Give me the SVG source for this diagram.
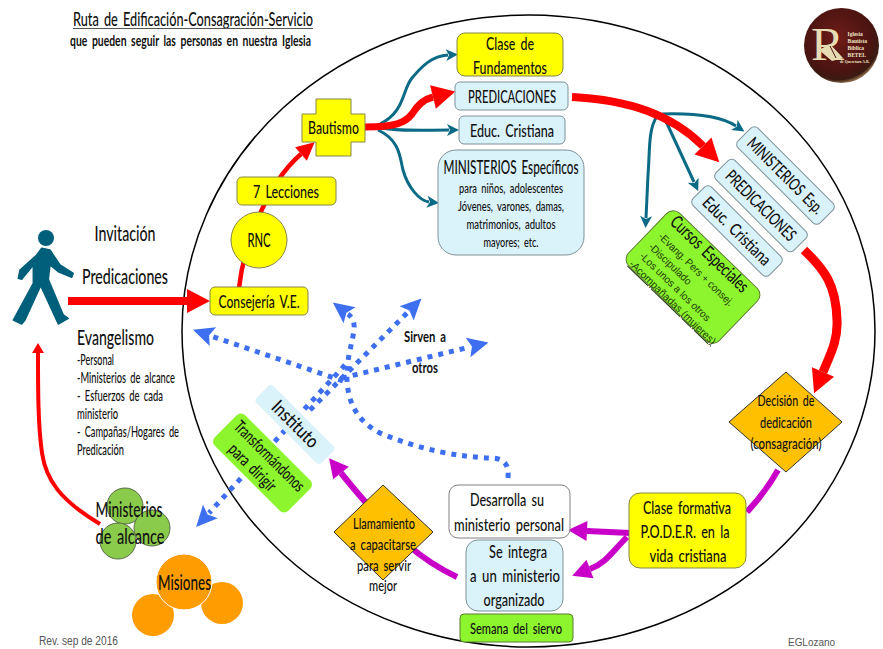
<svg xmlns="http://www.w3.org/2000/svg" width="883" height="649" viewBox="0 0 883 649">
<style>
text{font-family:"Lato","Open Sans","Liberation Sans",sans-serif;fill:#111;text-anchor:middle;word-spacing:3px;font-weight:500}
.l{text-anchor:start}
.b{font-weight:700}
.a{font-family:"Liberation Sans",Arial,sans-serif;fill:#555;word-spacing:0;font-weight:400}
.h{font-family:"Liberation Sans",Arial,sans-serif;word-spacing:0;font-weight:400;font-size:10.5px;fill:#1d3a08}
.t{font-family:"Liberation Serif",serif;fill:#efe6c8;font-weight:700;word-spacing:0;text-anchor:start}
.y{fill:#ffff00;stroke:#85854a;stroke-width:1}
.c{fill:#daf2f9;stroke:#7f9299;stroke-width:1}
.n{fill:#daf2f9}
.g{fill:#8cf52e;stroke:#5c7a2e;stroke-width:1}
.gn{fill:#8cf52e}
.w{fill:#fff;stroke:#808080;stroke-width:1}
.o{fill:#ffc000;stroke:#333;stroke-width:1}
.m{fill:#8acb4b;stroke:#5a6b4a;stroke-width:1}
.s{fill:#ff9c00}
.red{fill:none;stroke:#ff0000}
.teal{fill:none;stroke:#0b6a85;stroke-width:3}
.mag{fill:none;stroke:#c800c8;stroke-width:6}
.blue{fill:none;stroke:#3d6ff0;stroke-width:5;stroke-dasharray:5 6}
</style>
<defs>
<radialGradient id="lg" cx="45%" cy="40%" r="60%"><stop offset="0" stop-color="#6e1c18"/><stop offset=".75" stop-color="#4a1410"/><stop offset=".93" stop-color="#3a1a12"/><stop offset="1" stop-color="#8a6a48"/></radialGradient>
<marker id="rb" markerUnits="userSpaceOnUse" overflow="visible" orient="auto" refX="0" refY="0" markerWidth="26" markerHeight="26"><path d="M0,-12L23,0L0,12Z" fill="#ff0000"/></marker>
<marker id="rm" markerUnits="userSpaceOnUse" overflow="visible" orient="auto" refX="0" refY="0" markerWidth="26" markerHeight="26"><path d="M0,-9L18,0L0,9Z" fill="#ff0000"/></marker>
<marker id="rs" markerUnits="userSpaceOnUse" overflow="visible" orient="auto" refX="0" refY="0" markerWidth="14" markerHeight="14"><path d="M0,-6L10,0L0,6Z" fill="#ff0000"/></marker>
<marker id="t" markerUnits="userSpaceOnUse" overflow="visible" orient="auto" refX="0" refY="0" markerWidth="14" markerHeight="14"><path d="M-2,-6L10,0L-2,6L1,0Z" fill="#0b6a85"/></marker>
<marker id="p" markerUnits="userSpaceOnUse" overflow="visible" orient="auto" refX="0" refY="0" markerWidth="24" markerHeight="24"><path d="M0,-10L19,0L0,10Z" fill="#c800c8"/></marker>
<marker id="bl" markerUnits="userSpaceOnUse" overflow="visible" orient="auto" refX="0" refY="0" markerWidth="24" markerHeight="24"><path d="M-2,-10L19,0L-2,10L2,0Z" fill="#3d6ff0"/></marker>
</defs>
<rect width="883" height="649" fill="#fff"/>
<ellipse cx="528.5" cy="331" rx="346.5" ry="316" fill="none" stroke="#000" stroke-width="1.5"/>

<g id="titulo">
<text x="193" y="26" font-size="20" textLength="240" lengthAdjust="spacingAndGlyphs">Ruta de Edificación-Consagración-Servicio</text>
<line x1="73" y1="28.5" x2="313" y2="28.5" stroke="#555" stroke-width="1"/>
<text x="190.5" y="46" font-size="15" class="b" textLength="241" lengthAdjust="spacingAndGlyphs">que pueden seguir las personas en nuestra Iglesia</text>
</g>

<g id="connectors">
<path class="red" stroke-width="8" marker-end="url(#rb)" d="M68,301H187"/>
<path class="red" stroke-width="4.500" marker-end="url(#rm)" d="M239,288C243,250 265,185 301,154"/>
<path class="teal" marker-end="url(#t)" d="M380,124C405,112 402,90 412,78C422,66 432,56 448,55"/>
<path class="teal" marker-end="url(#t)" d="M375,127C400,132 425,130 449,130"/>
<path class="teal" marker-end="url(#t)" d="M378,130C400,140 400,158 403,170C408,188 420,201 429,202"/>
<path class="red" stroke-width="7" marker-end="url(#rb)" d="M365,127C395,127 405,123 412,114C418,104 425,99 433,97"/>
<path class="teal" marker-end="url(#t)" d="M662,114C695,113 722,117 736,126"/>
<path class="teal" marker-end="url(#t)" d="M664,117L694,182"/>
<path class="teal" marker-end="url(#t)" d="M657,116C648,130 650,150 648,175L646,218"/>
<path class="red" stroke-width="8" marker-end="url(#rb)" d="M572,97C630,100 672,115 703,146"/>
<path class="red" stroke-width="9" marker-end="url(#rb)" d="M804,250C825,270 836,285 837,320C838,340 831,353 823,372"/>
<path class="mag" d="M778,470C768,488 758,500 747,512"/>
<path class="mag" marker-end="url(#p)" d="M630,533L587,531"/>
<path class="mag" marker-end="url(#p)" d="M627,537C612,552 606,563 590,569"/>
<path class="mag" marker-end="url(#p)" d="M457,577C425,562 395,540 341,473"/>
<path class="red" stroke-width="4" marker-end="url(#rs)" d="M100,524C60,500 46,480 42,453C38,425 38,390 38,353"/>
<path class="blue" marker-end="url(#bl)" d="M343,381L211,336"/>
<path class="blue" marker-end="url(#bl)" d="M310,410L408,312"/>
<path class="blue" marker-end="url(#bl)" d="M342,378L470,347"/>
<path class="blue" marker-end="url(#bl)" d="M345,365L209,513"/>
<path class="blue" marker-end="url(#bl)" d="M508,478C509,465 505,458 490,458C460,457 420,450 380,433C355,420 348,400 347,380C346,360 352,345 354,330C355,322 352,317 348,314"/>
</g>

<g id="persona" fill="#005f7a">
<circle cx="46" cy="238" r="8"/>
<path d="M36.700,255L20,270L18.300,278.300L21.700,279.300L33.300,265L33.300,283.300L13.300,320L21.700,324L25,320L40.700,285.700L58.300,324L68.300,318.300L63.300,315L48.300,279.300L50,265L58.300,271.700L71.700,277.300L73.300,273.300L60,265L50,250L41.700,248.300Z" stroke="#005f7a" stroke-width="1.500" stroke-linejoin="round"/>
</g>
<g id="invitacion"><text x="125" y="241" font-size="21" textLength="61" lengthAdjust="spacingAndGlyphs">Invitación</text></g>
<g id="predicaciones-ext"><text x="125" y="284" font-size="21" textLength="86" lengthAdjust="spacingAndGlyphs">Predicaciones</text></g>
<g id="evangelismo">
<text class="l" x="77" y="345" font-size="22" textLength="77" lengthAdjust="spacingAndGlyphs">Evangelismo</text>
<text class="l" x="77" y="365" font-size="14.500" textLength="37" lengthAdjust="spacingAndGlyphs">-Personal</text>
<text class="l" x="77" y="383" font-size="14.500" textLength="98" lengthAdjust="spacingAndGlyphs">-Ministerios de alcance</text>
<text class="l" x="77" y="401" font-size="14.500" textLength="86" lengthAdjust="spacingAndGlyphs">- Esfuerzos de cada</text>
<text class="l" x="77" y="419" font-size="14.500" textLength="41" lengthAdjust="spacingAndGlyphs">ministerio</text>
<text class="l" x="77" y="437" font-size="14.500" textLength="102" lengthAdjust="spacingAndGlyphs">- Campañas/Hogares de</text>
<text class="l" x="77" y="455" font-size="14.500" textLength="47" lengthAdjust="spacingAndGlyphs">Predicación</text>
</g>

<g id="consejeria"><rect class="y" x="210" y="287" width="98" height="28" rx="5"/><text x="259" y="308" font-size="17.500" textLength="81" lengthAdjust="spacingAndGlyphs">Consejería V.E.</text></g>
<g id="rnc"><circle class="y" cx="259" cy="240" r="28"/><text x="259" y="247" font-size="19" textLength="23" lengthAdjust="spacingAndGlyphs">RNC</text></g>
<g id="lecciones"><rect class="y" x="237" y="177" width="99" height="28" rx="5"/><text x="286" y="198" font-size="18" textLength="66" lengthAdjust="spacingAndGlyphs">7 Lecciones</text></g>
<g id="bautismo"><path class="y" d="M316,99H351V114H365V142H351V156H316V142H302V114H316Z"/><text x="333.500" y="134" font-size="18" textLength="51" lengthAdjust="spacingAndGlyphs">Bautismo</text></g>
<g id="fundamentos"><rect class="y" x="457" y="33" width="106" height="43" rx="8"/><text x="510" y="50" font-size="18" textLength="48" lengthAdjust="spacingAndGlyphs">Clase de</text><text x="510" y="74" font-size="18" textLength="74" lengthAdjust="spacingAndGlyphs">Fundamentos</text></g>
<g id="predicaciones"><rect class="c" x="455" y="82" width="113" height="28" rx="5"/><text x="512" y="103" font-size="18" textLength="88" lengthAdjust="spacingAndGlyphs">PREDICACIONES</text></g>
<g id="educ"><rect class="c" x="459" y="116" width="106" height="28" rx="5"/><text x="512" y="137" font-size="18" textLength="84" lengthAdjust="spacingAndGlyphs">Educ. Cristiana</text></g>
<g id="ministerios"><rect class="c" x="438" y="150" width="146" height="105" rx="18"/>
<text x="511" y="174" font-size="19" textLength="135" lengthAdjust="spacingAndGlyphs">MINISTERIOS Específicos</text>
<g class="b" font-size="13.500"><text x="511" y="193" textLength="104" lengthAdjust="spacingAndGlyphs">para niños, adolescentes</text>
<text x="511" y="211" textLength="106" lengthAdjust="spacingAndGlyphs">Jóvenes, varones, damas,</text>
<text x="511" y="229" textLength="89" lengthAdjust="spacingAndGlyphs">matrimonios, adultos</text>
<text x="511" y="247" textLength="55" lengthAdjust="spacingAndGlyphs">mayores; etc.</text></g></g>

<g id="min-esp" transform="translate(785.500 175.500) rotate(45)"><rect class="c" x="-58" y="-14" width="116" height="28" rx="5"/><text x="0" y="6" font-size="17" textLength="100" lengthAdjust="spacingAndGlyphs">MINISTERIOS Esp.</text></g>
<g id="pred-rot" transform="translate(761 205.500) rotate(45)"><rect class="c" x="-55" y="-13.500" width="110" height="27" rx="5"/><text x="0" y="6" font-size="17" textLength="92" lengthAdjust="spacingAndGlyphs">PREDICACIONES</text></g>
<g id="educ-rot" transform="translate(737 231) rotate(45)"><rect class="c" x="-54" y="-13" width="108" height="26" rx="5"/><text x="0" y="6" font-size="17" textLength="89" lengthAdjust="spacingAndGlyphs">Educ. Cristiana</text></g>
<g id="cursos" transform="translate(693 277) rotate(44)"><rect class="g" x="-63" y="-36.500" width="126" height="73" rx="9"/>
<text x="-4" y="-22" font-size="18" textLength="101" lengthAdjust="spacingAndGlyphs">Cursos Especiales</text>
<text class="l h" x="-53" y="-4" textLength="100" lengthAdjust="spacingAndGlyphs">-Evang. Pers + consej.</text>
<text class="l h" x="-53" y="10" textLength="55" lengthAdjust="spacingAndGlyphs">-Discipulado</text>
<text class="l h" x="-53" y="23" textLength="94" lengthAdjust="spacingAndGlyphs">-Los unos a los otros</text>
<text class="l h" x="-55" y="36" textLength="116" lengthAdjust="spacingAndGlyphs" text-decoration="underline">-Acompañadas (mujeres)</text></g>

<g id="decision"><path class="o" d="M786,372L842,422L786,472L729,422Z"/><text x="786" y="406" font-size="16" textLength="57" lengthAdjust="spacingAndGlyphs">Decisión de</text><text x="786" y="428" font-size="16" textLength="52" lengthAdjust="spacingAndGlyphs">dedicación</text><text x="786" y="449" font-size="16" textLength="71" lengthAdjust="spacingAndGlyphs">(consagración)</text></g>
<g id="poder"><rect class="y" x="629" y="493" width="117" height="75" rx="11"/><text x="687" y="514" font-size="18" textLength="88" lengthAdjust="spacingAndGlyphs">Clase formativa</text><text x="685" y="538" font-size="18" textLength="89" lengthAdjust="spacingAndGlyphs">P.O.D.E.R. en la</text><text x="688" y="562" font-size="18" textLength="77" lengthAdjust="spacingAndGlyphs">vida cristiana</text></g>
<g id="desarrolla"><rect class="w" x="449" y="485" width="121" height="53" rx="9"/><text x="507" y="506" font-size="18" textLength="74" lengthAdjust="spacingAndGlyphs">Desarrolla su</text><text x="509" y="531" font-size="18" textLength="110" lengthAdjust="spacingAndGlyphs">ministerio personal</text></g>
<g id="integra"><rect class="c" x="466" y="540" width="97" height="71" rx="12"/><text x="518" y="558" font-size="18" textLength="58" lengthAdjust="spacingAndGlyphs">Se integra</text><text x="515" y="582" font-size="18" textLength="90" lengthAdjust="spacingAndGlyphs">a un ministerio</text><text x="514" y="606" font-size="18" textLength="61" lengthAdjust="spacingAndGlyphs">organizado</text></g>
<g id="semana"><rect class="g" x="460" y="614" width="113" height="28" rx="4"/><text x="516" y="634" font-size="16" textLength="92" lengthAdjust="spacingAndGlyphs">Semana del siervo</text></g>
<g id="llamamiento"><path class="o" d="M383,485L433,532L383,580L334,532Z"/><text x="384" y="529" font-size="16" textLength="62" lengthAdjust="spacingAndGlyphs">Llamamiento</text><text x="383" y="550" font-size="16" textLength="66" lengthAdjust="spacingAndGlyphs">a capacitarse</text><text x="384" y="571" font-size="16" textLength="54" lengthAdjust="spacingAndGlyphs">para servir</text><text x="383" y="591" font-size="16" textLength="28" lengthAdjust="spacingAndGlyphs">mejor</text></g>
<g id="instituto" transform="translate(295 424.500) rotate(45)"><rect class="n" x="-46" y="-12" width="92" height="24" rx="4"/><text x="0" y="6" font-size="19" textLength="58" lengthAdjust="spacingAndGlyphs">Instituto</text></g>
<g id="transformandonos" transform="translate(262.500 463) rotate(45)"><rect class="gn" x="-52" y="-21.500" width="104" height="43" rx="6"/><text x="0" y="-4" font-size="17" textLength="92" lengthAdjust="spacingAndGlyphs">Transformándonos</text><text x="-4" y="16" font-size="17" textLength="60" lengthAdjust="spacingAndGlyphs">para dirigir</text></g>

<g id="sirven"><text class="b" x="425" y="342" font-size="15" textLength="42" lengthAdjust="spacingAndGlyphs">Sirven a</text><text class="b" x="425" y="373" font-size="15" textLength="26" lengthAdjust="spacingAndGlyphs">otros</text></g>

<g id="min-alcance"><circle class="m" cx="125" cy="506" r="18"/><circle class="m" cx="152" cy="528" r="18"/><circle class="m" cx="118" cy="541" r="18"/>
<text x="129" y="517" font-size="22" textLength="67" lengthAdjust="spacingAndGlyphs">Ministerios</text><text x="130" y="544" font-size="22" textLength="69" lengthAdjust="spacingAndGlyphs">de alcance</text></g>
<g id="misiones"><circle class="s" cx="222" cy="603" r="21"/><circle class="s" cx="153" cy="615" r="21"/><circle class="s" cx="184" cy="582" r="28" stroke="#fff" stroke-width="1"/><text x="184.500" y="590" font-size="22" textLength="53" lengthAdjust="spacingAndGlyphs">Misiones</text></g>

<g id="logo">
<circle cx="841.500" cy="45.500" r="37.500" fill="url(#lg)"/>
<text x="811" y="60" font-size="46" style="font-family:'Liberation Serif',serif;fill:#e6dcb4;font-weight:400;word-spacing:0;text-anchor:start" textLength="33" lengthAdjust="spacingAndGlyphs">R</text>
<path d="M819,50L830,44L843,58L832,61Z" fill="#e6dcb4"/>
<path d="M830,46L836,58" stroke="#4a1410" stroke-width="1" fill="none"/>
<text class="t" x="847.500" y="35.500" font-size="5.500">Iglesia</text>
<text class="t" x="847.500" y="43" font-size="5.500">Bautista</text>
<text class="t" x="847.500" y="50" font-size="5.500">Bíblica</text>
<text class="t" x="847.500" y="57" font-size="5.500">BETEL</text>
<text class="t" x="840" y="63" font-size="3.800">de Queretaro A.R.</text>
</g>
<g id="notas"><text class="a l" x="39" y="645" font-size="12" textLength="79" lengthAdjust="spacingAndGlyphs">Rev. sep de 2016</text><text class="a l" x="788" y="646" font-size="11" textLength="47" lengthAdjust="spacingAndGlyphs">EGLozano</text></g>
</svg>
